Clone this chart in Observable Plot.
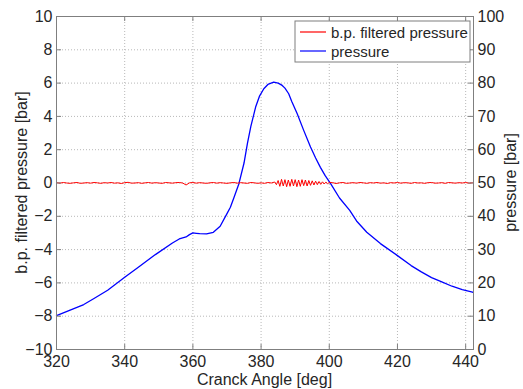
<!DOCTYPE html>
<html><head><meta charset="utf-8">
<script src="https://cdn.jsdelivr.net/npm/d3@7"></script>
<script src="https://cdn.jsdelivr.net/npm/@observablehq/plot@0.6"></script>
<style>body{margin:0;background:#fff} svg{font-family:"Liberation Sans",Arial,sans-serif}</style>
</head><body><div id="chart"></div><script>
// ---- data ----
const xTicks = [320, 340, 360, 380, 400, 420, 440];
const leftTicks = [-10, -8, -6, -4, -2, 0, 2, 4, 6, 8, 10];
const rightTickLabels = ["0","10","20","30","40","50","60","70","80","90","100"];

const pressureAngle = [320,324,328,331,335,340,344,349,354,356,358,359,360,361,362,364,366,368,370,371,372,373.5,375,376,377,378.4,379.5,380.8,382,383.7,385,386.2,387,388.1,389,390.6,392.5,394.5,396,397.4,398.8,400.4,403,406,408,411,415,420,424,427,430,433,436,439,442];
const pressureBar   = [10.2,11.8,13.5,15.3,17.8,21.7,24.7,28.5,32.0,33.2,33.8,34.5,35.0,34.9,34.8,34.7,35.2,37.0,40.8,42.7,45.5,49.8,56.0,61.9,67.0,72.8,76.0,78.3,79.6,80.3,80.0,79.3,78.5,76.8,74.5,70.8,65.8,60.8,57.5,54.7,52.2,49.8,45.5,41.8,38.6,35.2,31.8,28.2,25.2,23.3,21.6,20.3,19.0,18.0,17.2];

const filteredAngle = [
 320,321,322,323,324,325,326,327,328,329,
 330,331,332,333,334,335,336,337,338,339,
 340,341,342,343,344,345,346,347,348,349,
 350,351,352,353,354,355,356,357,358,359,
 360,361,362,363,364,365,366,367,368,369,
 370,371,372,373,374,375,376,377,378,379,
 380,381,382,383,
 384,384.5,385,385.5,386,386.5,387,387.5,388,388.5,389,389.5,390,390.5,391,391.5,392,392.5,393,393.5,394,394.5,395,395.5,396,396.5,397,397.5,398,398.5,399,399.5,400,
 401,402,403,404,405,406,407,408,409,410,
 411,412,413,414,415,416,417,418,419,420,
 421,422,423,424,425,426,427,428,429,430,
 431,432,433,434,435,436,437,438,439,440,
 441,442];
const filteredBar = [
 0.02,-0.01,0.03,0.00,-0.02,0.01,0.03,-0.02,0.00,0.02,
 -0.01,0.03,0.01,-0.02,0.02,0.00,0.03,-0.01,0.01,-0.03,
 0.02,0.04,-0.01,0.00,0.02,-0.02,0.01,0.03,-0.01,0.02,
 0.00,-0.02,0.03,0.01,-0.01,0.02,0.03,0.00,-0.12,0.01,
 0.03,-0.01,0.02,0.00,-0.02,0.01,0.03,-0.01,0.02,0.00,
 -0.02,0.01,0.03,-0.01,0.02,0.00,-0.02,0.03,0.01,-0.02,
 0.01,-0.02,0.03,0.00,
 0.06,-0.10,0.15,-0.20,0.22,-0.18,0.20,-0.22,0.18,-0.20,0.22,-0.18,0.20,-0.22,0.18,-0.20,0.20,-0.16,0.18,-0.18,0.15,-0.14,0.13,-0.12,0.11,-0.10,0.09,-0.08,0.07,-0.06,0.05,-0.04,0.03,
 0.02,-0.03,0.01,0.03,-0.02,0.00,0.02,-0.01,0.03,0.01,
 -0.02,0.02,0.00,0.03,-0.01,0.01,-0.03,0.02,0.00,0.03,
 -0.01,0.02,0.01,-0.02,0.03,0.00,0.01,-0.02,0.02,0.03,
 -0.01,0.00,0.02,-0.02,0.03,0.01,-0.01,0.02,0.00,0.03,
 -0.01,0.01];

const seriesNames = ["b.p. filtered pressure", "pressure"];
const seriesColors = ["#ff0000", "#0000ff"];

// ---- build ----
const W = 523, H = 389, mL = 56, mR = 50, mT = 16, mB = 40;
const pw = W - mL - mR, ph = H - mT - mB;
const toLeft = p => p / 5 - 10;  // right axis (0..100) -> left axis (-10..10)

const pressureData = pressureAngle.map((a, i) => ({a, v: toLeft(pressureBar[i])}));
const n = Math.min(filteredAngle.length, filteredBar.length);
const filteredData = filteredAngle.slice(0, n).map((a, i) => ({a, v: filteredBar[i]}));

const frameColor = "#7f7f7f";
const gridStyle = {stroke: "#b8b8b8", strokeOpacity: 1, strokeDasharray: "1,2", strokeWidth: 1};

const chart = Plot.plot({
  width: W, height: H,
  marginLeft: mL, marginRight: mR, marginTop: mT, marginBottom: mB,
  style: {fontSize: "16px", fontFamily: "Liberation Sans, Arial, sans-serif", color: "#262626", background: "#fff"},
  x: {domain: [320, 442.3]},
  y: {domain: [-10, 10]},
  marks: [
    Plot.gridX(xTicks, gridStyle),
    Plot.gridY(leftTicks, gridStyle),
    Plot.line(pressureData, {x: "a", y: "v", stroke: seriesColors[1], strokeWidth: 1.3}),
    Plot.line(filteredData, {x: "a", y: "v", stroke: seriesColors[0], strokeWidth: 1}),
    Plot.frame({stroke: frameColor}),
    Plot.tickY(leftTicks, {y: d => d, insetRight: pw - 5, stroke: frameColor}),
    Plot.tickY(leftTicks, {y: d => d, insetLeft: pw - 5, stroke: frameColor}),
    Plot.tickX(xTicks, {x: d => d, insetTop: ph - 5, stroke: frameColor}),
    Plot.tickX(xTicks, {x: d => d, insetBottom: ph - 5, stroke: frameColor}),
    Plot.axisX(xTicks, {tickSize: 0, tickPadding: 6, label: null}),
    Plot.axisY(leftTicks, {anchor: "left", tickSize: 0, tickPadding: 4, label: null}),
    Plot.axisY(leftTicks, {anchor: "right", tickSize: 0, tickPadding: 4, label: null,
      tickFormat: d => rightTickLabels[leftTicks.indexOf(d)]})
  ]
});

const svg = d3.select(chart);
const txt = "#262626";
svg.append("text").attr("x", mL + pw / 2).attr("y", H - 4).attr("text-anchor", "middle")
  .attr("font-size", 16).attr("fill", txt).text("Cranck Angle [deg]");
svg.append("text").attr("transform", `translate(21,${mT + ph / 2}) rotate(-90)`)
  .attr("text-anchor", "middle").attr("dominant-baseline", "central")
  .attr("font-size", 16).attr("fill", txt).text("b.p. filtered pressure [bar]");
svg.append("text").attr("transform", `translate(510,${mT + ph / 2}) rotate(-90)`)
  .attr("text-anchor", "middle").attr("dominant-baseline", "central")
  .attr("font-size", 16).attr("fill", txt).text("pressure [bar]");

// legend
const lg = svg.append("g").attr("text-anchor", "start");
lg.append("rect").attr("x", 295).attr("y", 21).attr("width", 175).attr("height", 41)
  .attr("fill", "#fff").attr("stroke", frameColor);
seriesNames.forEach((name, i) => {
  const y = 32 + i * 19;
  lg.append("line").attr("x1", 300).attr("x2", 326).attr("y1", y).attr("y2", y)
    .attr("stroke", seriesColors[i]).attr("stroke-width", 1.2);
  lg.append("text").attr("x", 331).attr("y", y).attr("dominant-baseline", "central")
    .attr("text-anchor", "start")
    .attr("font-size", 15).attr("fill", txt).text(name);
});

document.getElementById("chart").appendChild(chart);
</script></body></html>
